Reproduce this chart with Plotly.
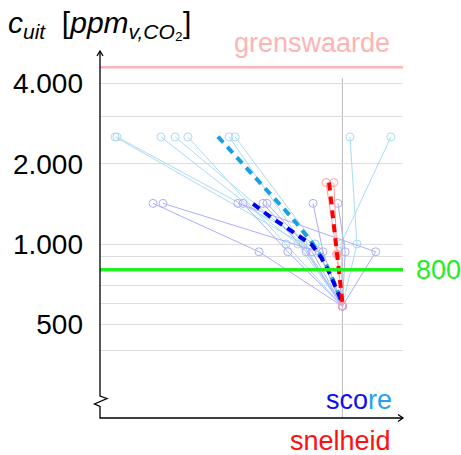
import numpy as np
import plotly.graph_objects as go

# ---------------- data ----------------
conv_x, conv_y = 80.0, 585          # common end point
# light-blue series: start -> intermediate -> end
lb_start_x = [5.0, 5.6, 20.1, 24.8, 29.0, 42.6, 44.6, 82.5, 96.0]
lb_start_y = [2520] * 9
lb_mid_x = [67.0, 71.0, 65.3, 67.0, 61.4, 67.0, 71.0, 84.8, 79.5]
lb_mid_y = [1000] * 9
# lavender series
lv_start_x = [17.5, 20.8, 45.5, 47.2, 53.8, 55.1, 70.3, 78.5]
lv_start_y = [1420] * 8
lv_mid_x = [52.5, 72.3, 91.0, 62.0, 68.0, 70.0, 73.6, 80.9]
lv_mid_y = [935] * 8
# red series
rd_start_x = [74.6, 77.2]
rd_start_y = [1700, 1700]
rd_mid_x, rd_mid_y = 78.2, 917
# trend curves (dashed)
lbt_x = [38.9, 41.9, 49.5, 56.8, 63.4, 69.3, 74.3, 77.6, 80.0]
lbt_y = [2527, 2318, 1866, 1529, 1253, 1035, 856, 701, 600]
bt_x = [50.5, 56.0, 61.7, 66.5, 70.0, 73.0, 75.6, 78.0, 80.0]
bt_y = [1414, 1270, 1149, 1060, 991, 890, 785, 680, 600]
rt_x = [75.6, 80.0]
rt_y = [1700, 605]
grens = 4600
limit = 800
grid_vals = [400, 500, 600, 700, 800, 900, 1000, 2000, 3000, 4000]
label_vals = {500: "500", 1000: "1.000", 2000: "2.000", 4000: "4.000"}

LB = "#a9dcf5"
LV = "#aeaefa"
RDL = "#ff9f9f"

def paths(sx, sy, mx, my):
    xs, ys = [], []
    for a, b, c, d in zip(sx, sy, mx, my):
        xs += [a, c, conv_x, None]
        ys += [b, d, conv_y, None]
    return xs, ys

fig = go.Figure()

xs, ys = paths(lb_start_x, lb_start_y, lb_mid_x, lb_mid_y)
fig.add_trace(go.Scatter(x=xs, y=ys, mode="lines+markers",
                         line=dict(color=LB, width=1),
                         marker=dict(symbol="circle-open", size=8, color=LB, line=dict(width=1))))
xs, ys = paths(lv_start_x, lv_start_y, lv_mid_x, lv_mid_y)
fig.add_trace(go.Scatter(x=xs, y=ys, mode="lines+markers",
                         line=dict(color=LV, width=1),
                         marker=dict(symbol="circle-open", size=8, color=LV, line=dict(width=1))))
xs, ys = [], []
for a, b in zip(rd_start_x, rd_start_y):
    xs += [a, rd_mid_x, conv_x, None]
    ys += [b, rd_mid_y, conv_y, None]
fig.add_trace(go.Scatter(x=xs, y=ys, mode="lines+markers",
                         line=dict(color=RDL, width=1),
                         marker=dict(symbol="circle-open", size=8, color=RDL, line=dict(width=1))))
fig.add_trace(go.Scatter(x=[rd_mid_x], y=[rd_mid_y], mode="markers",
                         marker=dict(symbol="circle", size=9, color="#ffb0b0")))

fig.add_trace(go.Scatter(x=lbt_x, y=lbt_y, mode="lines",
                         line=dict(color="#1a9fe3", width=4, dash="8px,6px")))
fig.add_trace(go.Scatter(x=bt_x, y=bt_y, mode="lines",
                         line=dict(color="#0000f0", width=4, dash="8px,6px")))
fig.add_trace(go.Scatter(x=rt_x, y=rt_y, mode="lines",
                         line=dict(color="#ff0000", width=4, dash="8px,6px")))

# horizontal reference lines
fig.add_hline(y=grens, line=dict(color="#ffb3b3", width=2.5))
fig.add_hline(y=limit, line=dict(color="#22ee22", width=3.5))
fig.add_shape(type="line", xref="x", yref="paper", x0=conv_x, x1=conv_x, y0=0, y1=0.924,
              line=dict(color="#bbbbbb", width=1), layer="below")

# axes drawn as shapes (paper coordinates)
W, H = 303.0, 368.0
def px(x, y):
    return (x - 100) / W, (418 - y) / H
def path(points):
    s = ""
    for i, (x, y) in enumerate(points):
        a, b = px(x, y)
        s += ("M" if i == 0 else "L") + f"{a:.4f},{b:.4f} "
    return s
axis_line = dict(color="black", width=1.3)
fig.add_shape(type="path", xref="paper", yref="paper",
              path=path([(100, 51), (100, 396), (107, 398.5), (94.5, 404), (100, 406.5), (100, 418), (403, 418)]),
              line=axis_line)
fig.add_shape(type="path", xref="paper", yref="paper",
              path=path([(97, 56), (100, 51), (103, 56)]), line=axis_line)
fig.add_shape(type="path", xref="paper", yref="paper",
              path=path([(398, 414.5), (403, 418), (398, 421.5)]), line=axis_line)

FONT = "Liberation Sans"
def note(x, y, text, size, color, xanchor="center", yref="paper"):
    fig.add_annotation(xref="paper", yref=yref, x=x, y=y, text=text, xanchor=xanchor,
                       yanchor="middle", showarrow=False,
                       font=dict(family=FONT, size=size, color=color))

note((312 - 100) / W, (418 - 43) / H, "grenswaarde", 27, "#ffb3b3")
note((414 - 100) / W, np.log10(limit), str(limit), 27, "#22ee22", xanchor="left", yref="y")
note((359 - 100) / W, (418 - 400) / H,
     "<span style='color:#1010ee'>sco</span><span style='color:#2a9ff0'>re</span>", 27, "black")
note((340 - 100) / W, (418 - 441) / H, "snelheid", 27, "#ff1010")
note((6 - 100) / W, (418 - 24) / H,
     "<i>c</i><sub><i>uit</i></sub>  [<i>ppm</i><sub><i>v,CO</i>₂</sub>]", 30, "black", xanchor="left")

fig.update_layout(
    width=461, height=455, autosize=False,
    margin=dict(l=100, r=58, t=50, b=37),
    plot_bgcolor="white", paper_bgcolor="white",
    showlegend=False,
    xaxis=dict(range=[0, 100], showgrid=False, zeroline=False, showticklabels=False,
               showline=False, ticks=""),
    yaxis=dict(type="log", range=[2.3477, 3.7273], tickvals=grid_vals,
               ticktext=[label_vals.get(v, "") for v in grid_vals],
               showgrid=True, gridcolor="#dddddd", gridwidth=1, zeroline=False,
               showline=False, ticks="", ticklabelstandoff=16,
               tickfont=dict(family=FONT, size=28, color="black")),
)

fig.write_html("out.html")
